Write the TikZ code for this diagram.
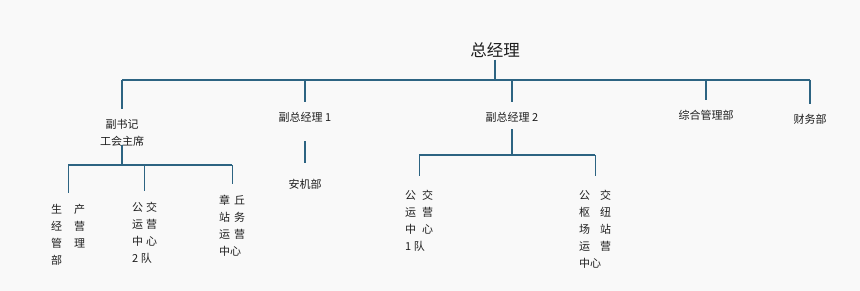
\documentclass[tikz,border=0pt]{standalone}
\usepackage{fontspec}
\setmainfont{Noto Sans CJK SC}
\usetikzlibrary{positioning}
\definecolor{linkblue}{RGB}{45,100,130}
\definecolor{bgpaper}{RGB}{249,249,249}
\definecolor{inkgray}{RGB}{30,30,30}

\begin{document}
\begin{tikzpicture}[x=1pt,y=-1pt,
  lbl/.style={inner sep=0pt,text=inkgray,font=\fontsize{11}{17}\selectfont,align=center},
  col/.style={lbl,align=left,anchor=north west},
  head/.style={inner sep=0pt,text=inkgray,font=\fontsize{16.5}{20}\selectfont},
  link/.style={draw=linkblue,line width=1.1pt}]
\fill[bgpaper] (0,0) rectangle (860,291);
\useasboundingbox (0,0) rectangle (860,291);

% top level
\node[head] (gm) at (495,50) {总经理};
\coordinate (topbus) at (0,80);
\node[lbl] (sec) at (122,133) {副书记\\工会主席};
\node[lbl] (vp1) at (305,117) {副总经理 1};
\node[lbl] (vp2) at (512,117) {副总经理 2};
\node[lbl] (adm) at (706,115) {综合管理部};
\node[lbl] (fin) at (810,119) {财务部};

% lower level
\node[lbl] (safe) at (305,184) {安机部};
\node[col] (prod) at (51,204) {生\hspace{12pt}产\\经\hspace{12pt}营\\管\hspace{12pt}理\\部};
\node[col] (bus2) at (132,202) {公\hspace{3pt}交\\运\hspace{3pt}营\\中\hspace{3pt}心\\2 队};
\node[col] (zq) at (219,195) {章\hspace{4pt}丘\\站\hspace{4pt}务\\运\hspace{4pt}营\\中心};
\node[col] (bus1) at (405,190) {公\hspace{6pt}交\\运\hspace{6pt}营\\中\hspace{6pt}心\\1 队};
\node[col] (hub) at (579,190) {公\hspace{10pt}交\\枢\hspace{10pt}纽\\场\hspace{10pt}站\\运\hspace{10pt}营\\中心};
\coordinate (secbus) at (0,165);
\coordinate (vpbus) at (0,155);

% connectors
\draw[link,shorten <=2pt] (gm.south) -- (gm |- topbus);
\draw[link] (sec |- topbus) -- (fin |- topbus);
\foreach \n in {sec,vp1,vp2,adm,fin}
  \draw[link,shorten >=10pt] (\n |- topbus) -- (\n.north);
\draw[link,shorten <=-2pt] (sec.south) -- (sec |- secbus);
\draw[link] (prod.north |- secbus) -- (zq.north |- secbus);
\foreach \n in {prod,bus2,zq}
  \draw[link,shorten >=11pt] (\n.north |- secbus) -- (\n.north);
\draw[link,shorten <=19pt,shorten >=16pt] (vp1) -- (safe);
\draw[link,shorten <=7pt] (vp2.south) -- (vp2 |- vpbus);
\draw[link] (bus1.north |- vpbus) -- (hub.north |- vpbus);
\foreach \n in {bus1,hub}
  \draw[link,shorten >=14pt] (\n.north |- vpbus) -- (\n.north);
\end{tikzpicture}
\end{document}
